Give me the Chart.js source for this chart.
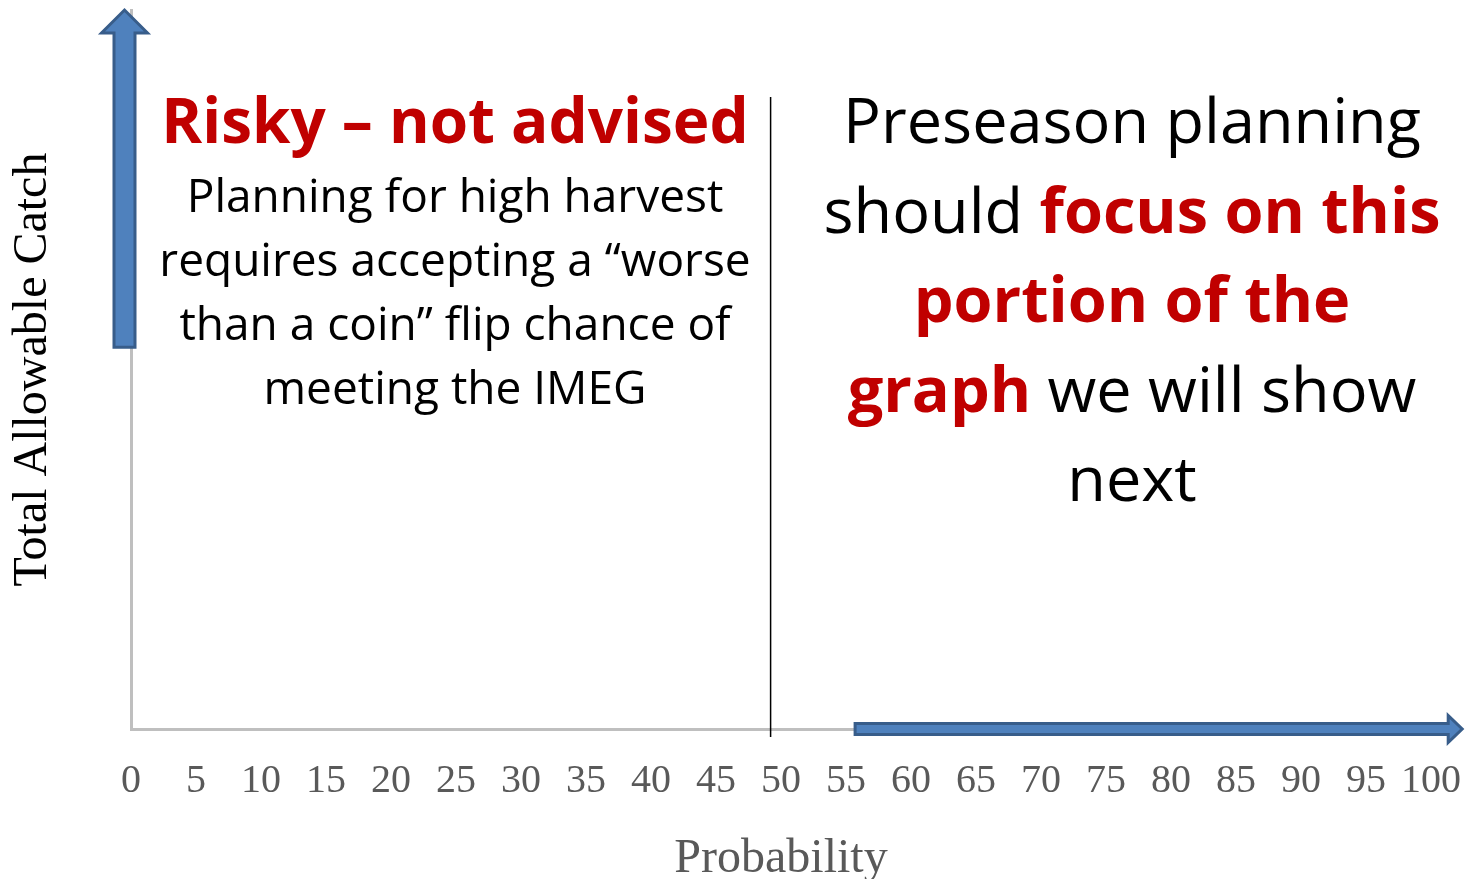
<!DOCTYPE html>
<html>
<head>
<meta charset="utf-8">
<script src="https://cdn.jsdelivr.net/npm/chart.js@4"></script>
<style>
  body { margin: 0; background: #fff; }
  #wrap { width: 1475px; height: 879px; }
</style>
</head>
<body>
<div id="wrap"><canvas id="chart"></canvas></div>
<script>
// axis ranges and labels
const xMin = 0, xMax = 100, xStep = 5;
const yMin = 0, yMax = 100;
const xTitle = 'Probability';
const yTitle = 'Total Allowable Catch';

// vertical divider at ~49 % probability
const dividerX = [49.2, 49.2];
const dividerY = [-1.1, 87.9];

// blue arrows along the axes (data units)
const upArrowX = [-0.5, -0.5];
const upArrowY = [53.1, 100];
const rightArrowX = [55.7, 102.4];
const rightArrowY = [0, 0];

// annotation texts: each line is a list of [text, red?]
const leftTitle = [['Risky \u2013 not advised', true]];
const leftLines = [
    [['Planning for high harvest', false]],
    [['requires accepting a \u201cworse', false]],
    [['than a coin\u201d flip chance of', false]],
    [['meeting the IMEG', false]]
];
const rightLines = [
    [['Preseason planning', false]],
    [['should ', false], ['focus on this', true]],
    [['portion of the', true]],
    [['graph', true], [' we will show', false]],
    [['next', false]]
];

const RED = '#c00000';
const SANS = '"Open Sans", "Noto Sans", sans-serif';

function drawLine(ctx, parts, cx, baseline, size) {
    const fontFor = (bold) => (bold ? 'bold ' : '') + size + 'px ' + SANS;
    let total = 0;
    parts.forEach(p => {
        ctx.font = fontFor(p[1]);
        total += ctx.measureText(p[0]).width;
    });
    let x = cx - total / 2;
    ctx.textAlign = 'left';
    ctx.textBaseline = 'alphabetic';
    parts.forEach(p => {
        ctx.font = fontFor(p[1]);
        ctx.fillStyle = p[1] ? RED : '#000';
        ctx.fillText(p[0], x, baseline);
        x += ctx.measureText(p[0]).width;
    });
}

function arrowPath(ctx, x1, y1, x2, y2, shaft, headW, headL) {
    // arrow from (x1,y1) to (x2,y2)
    const ang = Math.atan2(y2 - y1, x2 - x1);
    const len = Math.hypot(x2 - x1, y2 - y1);
    ctx.save();
    ctx.translate(x1, y1);
    ctx.rotate(ang);
    ctx.beginPath();
    ctx.moveTo(0, -shaft / 2);
    ctx.lineTo(len - headL, -shaft / 2);
    ctx.lineTo(len - headL, -headW / 2);
    ctx.lineTo(len, 0);
    ctx.lineTo(len - headL, headW / 2);
    ctx.lineTo(len - headL, shaft / 2);
    ctx.lineTo(0, shaft / 2);
    ctx.closePath();
    ctx.fillStyle = '#4f81bd';
    ctx.strokeStyle = '#385d8a';
    ctx.lineWidth = 3;
    ctx.fill();
    ctx.stroke();
    ctx.restore();
}

const annotations = {
    id: 'annotations',
    afterDraw(chart) {
        const ctx = chart.ctx;
        const xs = chart.scales.x, ys = chart.scales.y;
        arrowPath(ctx,
            xs.getPixelForValue(upArrowX[0]), ys.getPixelForValue(upArrowY[0]),
            xs.getPixelForValue(upArrowX[1]), ys.getPixelForValue(upArrowY[1]),
            21, 46, 23);
        arrowPath(ctx,
            xs.getPixelForValue(rightArrowX[0]), ys.getPixelForValue(rightArrowY[0]),
            xs.getPixelForValue(rightArrowX[1]), ys.getPixelForValue(rightArrowY[1]),
            11, 27, 14);

        ctx.save();
        drawLine(ctx, leftTitle, 455, 143, 62);
        leftLines.forEach((l, i) => drawLine(ctx, l, 455, 212 + i * 64, 46));
        rightLines.forEach((l, i) => drawLine(ctx, l, 1132, 143 + i * 89.5, 63));
        ctx.restore();
    }
};

new Chart(document.getElementById('chart'), {
    type: 'scatter',
    data: {
        datasets: [{
            data: dividerX.map((x, i) => ({ x: x, y: dividerY[i] })),
            showLine: true,
            borderColor: '#000',
            borderWidth: 1.5,
            pointRadius: 0,
            clip: false
        }]
    },
    options: {
        responsive: true,
        maintainAspectRatio: false,
        animation: false,
        layout: { padding: { top: 10, right: 44, bottom: 0, left: 0 } },
        plugins: {
            legend: { display: false },
            tooltip: { enabled: false }
        },
        scales: {
            x: {
                type: 'linear',
                min: xMin,
                max: xMax,
                grid: { display: false, drawTicks: false },
                border: { color: '#bfbfbf', width: 3 },
                ticks: {
                    stepSize: xStep,
                    autoSkip: false,
                    maxRotation: 0,
                    padding: 28,
                    color: '#595959',
                    font: { family: '"Liberation Serif", serif', size: 40 }
                },
                title: {
                    display: true,
                    text: xTitle,
                    color: '#595959',
                    padding: { top: 0, bottom: -9 },
                    font: { family: '"Liberation Serif", serif', size: 48 }
                },
                afterFit: s => {
                    s.height = 150;
                    s.paddingLeft = 0;
                    s.paddingRight = 0;
                }
            },
            y: {
                min: yMin,
                max: yMax,
                grid: { display: false, drawTicks: false },
                border: { color: '#bfbfbf', width: 3 },
                ticks: { display: false },
                title: {
                    display: true,
                    text: yTitle,
                    color: '#000',
                    padding: { top: 5, bottom: 0 },
                    font: { family: '"Liberation Serif", serif', size: 48 }
                },
                afterFit: s => { s.width = 131; }
            }
        }
    },
    plugins: [annotations]
});
</script>
</body>
</html>
